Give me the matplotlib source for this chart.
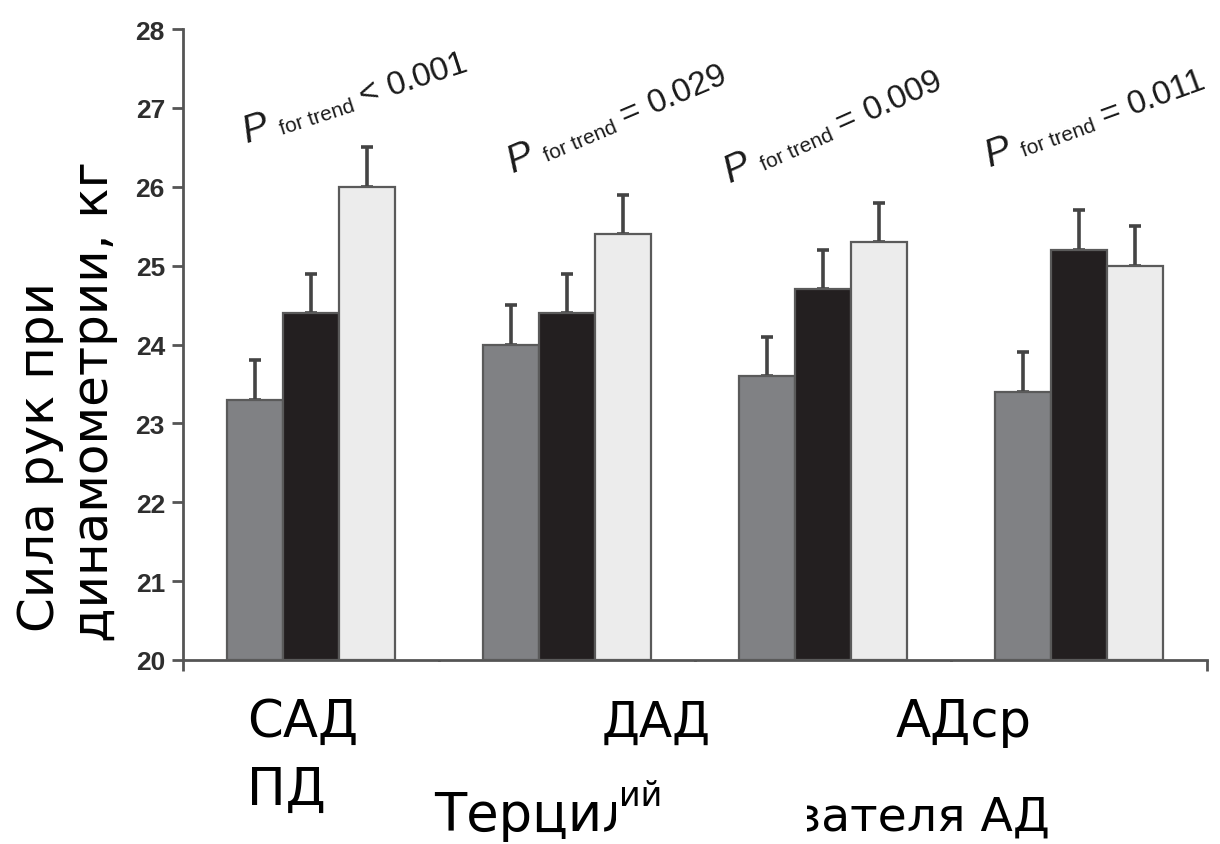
import matplotlib
matplotlib.use("Agg")
import matplotlib.pyplot as plt
import numpy as np
from matplotlib.transforms import Bbox, TransformedBbox
from matplotlib.patches import Rectangle
from matplotlib.textpath import TextPath
from matplotlib.font_manager import FontProperties

# Hand-grip strength by blood-pressure tertile
groups = ["САД", "ДАД", "АДср", "ПД"]
tertile1 = [23.3, 24.0, 23.6, 23.4]
tertile2 = [24.4, 24.4, 24.7, 25.2]
tertile3 = [26.0, 25.4, 25.3, 25.0]
err1 = [0.5, 0.5, 0.5, 0.5]
err2 = [0.5, 0.5, 0.5, 0.5]
err3 = [0.5, 0.5, 0.5, 0.5]
p_ops = ["<", "=", "=", "="]
p_vals = ["0.001", "0.029", "0.009", "0.011"]
yticks = [20, 21, 22, 23, 24, 25, 26, 27, 28]

W, H = 1220, 845
fig = plt.figure(figsize=(W / 100, H / 100), dpi=100)
ax = fig.add_axes([183 / W, 1 - 661 / H, (1207 - 183) / W, (661 - 30) / H])

colors = ["#808184", "#231f20", "#ececec"]
series = [tertile1, tertile2, tertile3]
errs = [err1, err2, err3]
x = np.arange(len(groups)) + 0.5
bw = 0.22
for k, (vals, e, c) in enumerate(zip(series, errs, colors)):
    xs = x + (k - 1) * bw
    ax.bar(xs, np.array(vals) - 20, bottom=20, width=bw, color=c,
           edgecolor="#5a5a5a", linewidth=1.6, zorder=3)
    ax.errorbar(xs, vals, yerr=[np.zeros(len(e)), e], fmt="none",
                ecolor="#444444", elinewidth=2.6, capsize=4, capthick=2.6,
                zorder=2)

ax.set_xlim(0, 4)
ax.set_ylim(20, 28)
ax.set_yticks(yticks)
ax.set_yticklabels([str(v) for v in yticks], fontfamily="Liberation Sans",
                   fontweight="bold", fontsize=19, color="#2e2e2e")
ax.set_xticks([0, 1, 2, 3, 4])
ax.set_xticklabels([])
ax.tick_params(axis="both", direction="out", length=8, width=2,
               color="#555555", pad=5)
for s in ["top", "right"]:
    ax.spines[s].set_visible(False)
for s in ["left", "bottom"]:
    ax.spines[s].set_color("#555555")
    ax.spines[s].set_linewidth(2)

# p-for-trend annotations along a tilted baseline
anchors = [(247, 143, 18), (513, 173, 23), (730, 183, 24), (990, 167, 20)]
big = FontProperties(family="Liberation Sans", size=24)
bigit = FontProperties(family="Liberation Sans", style="italic", size=28)
small = FontProperties(family="Liberation Sans", size=15)


def tw(s, prop):
    return TextPath((0, 0), s, prop=prop).get_extents().width


for (px, py, ang), op, val in zip(anchors, p_ops, p_vals):
    xd = (px - 183) / 256
    yd = 20 + (661 - py) / (631 / 8)
    th = np.deg2rad(ang)
    ux, uy = np.cos(th), np.sin(th)
    d1 = tw("P", bigit) + 8
    d2 = d1 + tw("for trend", small) + 7
    d3 = d2 + tw(op, big) + 10
    pieces = [("P", bigit, 0.0, 0.0),
              ("for trend", small, d1, -2.0),
              (op, big, d2, 0.0),
              (val, big, d3, 0.0)]
    for s, prop, d, perp in pieces:
        ox = d * ux - perp * uy
        oy = d * uy + perp * ux
        ax.annotate(s, xy=(xd, yd), xytext=(ox, oy), textcoords="offset points",
                    rotation=ang, rotation_mode="anchor", ha="left",
                    va="baseline", fontproperties=prop, color="#1a1a1a",
                    annotation_clip=False)

# white panel below the x-axis carrying the category captions
fig.patches.append(Rectangle((228 / W, 0), (1195 - 228) / W, (H - 663) / H,
                             transform=fig.transFigure, facecolor="white",
                             edgecolor="none", zorder=5))

ru = dict(family="DejaVu Sans", color="black", zorder=6)


def fx(p):
    return p / W


def fy(p):
    return 1 - p / H


fig.text(fx(247), fy(737), groups[0], ha="left", va="baseline", fontsize=37, **ru)
fig.text(fx(247), fy(805), groups[3], ha="left", va="baseline", fontsize=37, **ru)
fig.text(fx(602), fy(737), groups[1], ha="left", va="baseline", fontsize=35, **ru)
fig.text(fx(896), fy(737), groups[2], ha="left", va="baseline", fontsize=37, **ru)

# x-axis title, partly covered
t1 = fig.text(fx(434), fy(831), "Терцил", ha="left", va="baseline",
              fontsize=38, **ru)
t1.set_clip_on(True)
t1.set_clip_box(TransformedBbox(Bbox([[0, 0], [616 / W, 1]]), fig.transFigure))
fig.text(fx(619), fy(806), "ий", ha="left", va="baseline", fontsize=24, **ru)
t3 = fig.text(fx(796), fy(831), "зателя АД", ha="left", va="baseline",
              fontsize=34, **ru)
t3.set_clip_on(True)
t3.set_clip_box(TransformedBbox(Bbox([[807 / W, 0], [1, 1]]), fig.transFigure))

# y-axis title, two lines aligned at the bottom
fig.text(fx(40), fy(632), "Сила рук при", rotation=90, ha="center",
         va="bottom", fontsize=36, **ru)
fig.text(fx(94), fy(642), "динамометрии, кг", rotation=90, ha="center",
         va="bottom", fontsize=36, **ru)

fig.savefig("out.png", dpi=100)
